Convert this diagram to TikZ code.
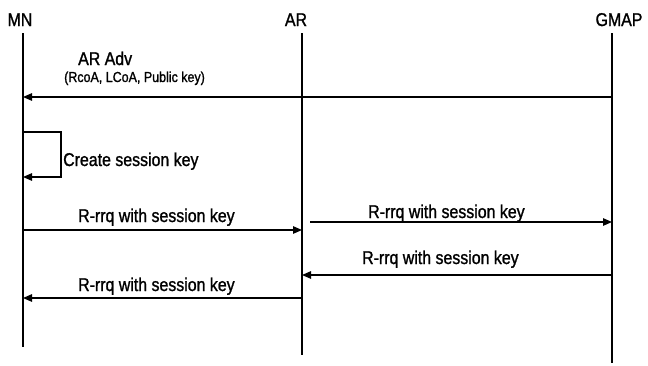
\documentclass[tikz,border=0pt]{standalone}
\usepackage{fontspec}
\setmainfont{Liberation Sans}[FakeStretch=0.86,FakeBold=1.2]
\usetikzlibrary{arrows.meta}
\begin{document}
\begin{tikzpicture}[x=1pt,y=-1pt,
  life/.style={line width=2.7pt},
  msg/.style={line width=1.2pt,-{Triangle[length=9pt,width=7.5pt]}},
  hdr/.style={anchor=base,inner sep=0pt,font=\fontsize{18.5}{20}\selectfont},
  lbl/.style={anchor=base west,inner sep=0pt,font=\fontsize{18.5}{20}\selectfont},
  sublbl/.style={anchor=base west,inner sep=0pt,font=\fontsize{14.5}{16}\selectfont}]
\useasboundingbox (0,0) rectangle (648,365);
% headers
\node[hdr] (mn) at (20,26) {MN};
\node[hdr] (ar) at (296,26) {AR};
\node[hdr] (gmap) at (619,26) {GMAP};
% lifelines
\coordinate (mnT) at (23,33);  \coordinate (mnB) at (23,347);
\coordinate (arT) at (302,33); \coordinate (arB) at (302,355);
\coordinate (gmT) at (612,33); \coordinate (gmB) at (612,363);
\draw[life] (mnT) -- (mnB);
\draw[life] (arT) -- (arB);
\draw[life] (gmT) -- (gmB);
% AR Adv
\coordinate (adv1) at (612,97); \coordinate (adv2) at (23,97);
\draw[msg] (adv1) -- (adv2);
\node[lbl] (advl) at (78,65) {AR Adv};
\node[sublbl] (advs) at (64,82) {(RcoA, LCoA, Public key)};
% self loop
\coordinate (s1) at (23,132); \coordinate (s2) at (61,132);
\coordinate (s3) at (61,177); \coordinate (s4) at (23,177);
\draw[msg] (s1) -- (s2) -- (s3) -- (s4);
\node[lbl] (csk) at (63,166) {Create session key};
% MN -> AR
\coordinate (m1) at (23,230); \coordinate (m2) at (302,230);
\draw[msg] (m1) -- (m2);
\node[lbl] (l1) at (78,222) {R-rrq with session key};
% AR -> GMAP
\coordinate (m3) at (310,222); \coordinate (m4) at (612,222);
\draw[msg] (m3) -- (m4);
\node[lbl] (l2) at (368,218) {R-rrq with session key};
% GMAP -> AR
\coordinate (m5) at (612,275); \coordinate (m6) at (302,275);
\draw[msg] (m5) -- (m6);
\node[lbl] (l3) at (362,264) {R-rrq with session key};
% AR -> MN
\coordinate (m7) at (302,298); \coordinate (m8) at (23,298);
\draw[msg] (m7) -- (m8);
\node[lbl] (l4) at (78,291) {R-rrq with session key};
\end{tikzpicture}
\end{document}
